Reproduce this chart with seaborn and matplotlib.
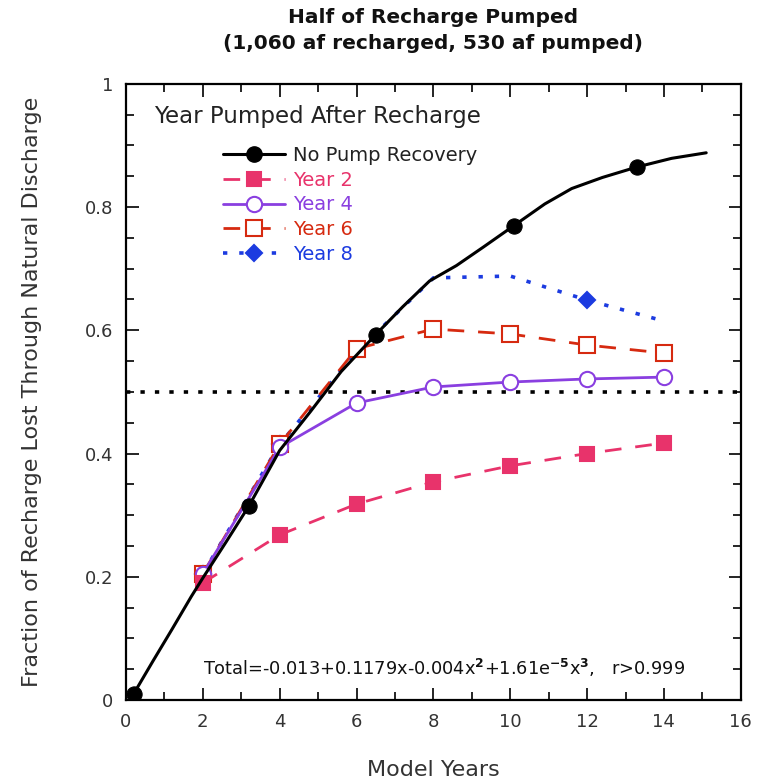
import numpy as np
import pandas as pd
import matplotlib
matplotlib.use("Agg")
import matplotlib.pyplot as plt
from matplotlib.lines import Line2D
from matplotlib.ticker import MultipleLocator
import seaborn as sns

# Total fraction lost through natural discharge (no pump recovery)
total_years = [0.2, 0.7, 1.2, 1.7, 2.0, 2.6, 3.2, 4.0, 4.8, 5.6, 6.5, 7.2, 7.9,
               8.6, 9.3, 10.1, 10.9, 11.6, 12.4, 13.3, 14.2, 15.1]
total_frac = [0.010, 0.063, 0.115, 0.168, 0.198, 0.256, 0.315, 0.405, 0.468, 0.533,
              0.593, 0.638, 0.680, 0.705, 0.735, 0.770, 0.805, 0.830, 0.848, 0.865,
              0.879, 0.888]
total_marker_idx = [0, 6, 10, 15, 19]

# Scenarios: year in which the recharge is pumped
pump_years = [2, 4, 6, 8, 10, 12, 14]
year2 = [0.190, 0.268, 0.318, 0.354, 0.380, 0.400, 0.417]
year4 = [0.205, 0.410, 0.482, 0.508, 0.516, 0.521, 0.524]
year6 = [0.205, 0.415, 0.570, 0.602, 0.594, 0.576, 0.563]
year8 = [0.205, 0.415, 0.565, 0.685, 0.688, 0.649, 0.615]

series_names = ["Year 2", "Year 4", "Year 6", "Year 8"]
series_values = [year2, year4, year6, year8]

x_ticks = [0, 2, 4, 6, 8, 10, 12, 14, 16]
y_ticks = [0, 0.2, 0.4, 0.6, 0.8, 1]
y_tick_labels = ["0", "0.2", "0.4", "0.6", "0.8", "1"]

title_text = "Half of Recharge Pumped\n(1,060 af recharged, 530 af pumped)"
fit_text = (r"Total=-0.013+0.1179x-0.004x$^{\mathbf{2}}$+1.61e$^{\mathbf{-5}}$"
            r"x$^{\mathbf{3}}$,   r>0.999")

sns.set_theme(style="white")
plt.rcParams["font.family"] = ["DejaVu Sans"]

fig = plt.figure(figsize=(7.59, 7.83), dpi=100)
ax = fig.add_axes([0.166, 0.106, 0.81, 0.787])

styles = {
    "Year 2": dict(color="#e8336b", ls=(0, (6, 5)), marker="s", mfc="#e8336b",
                   ms=10, mev=None, lw=2.0),
    "Year 4": dict(color="#8a3fe0", ls="-", marker="o", mfc="white",
                   ms=11, mev=None, lw=2.0),
    "Year 6": dict(color="#d62a10", ls=(0, (6, 5)), marker="s", mfc="white",
                   ms=11, mev=None, lw=2.0),
    "Year 8": dict(color="#1c3be0", ls=(0, (1.2, 3.3)), marker="D", mfc="#1c3be0",
                   ms=8, mev=[0, 1, 5], lw=2.6),
}

df_total = pd.DataFrame({"year": total_years, "frac": total_frac})

# Reference line at half of recharge
ax.axhline(0.5, color="black", ls=(0, (1.2, 2.8)), lw=2.6, zorder=1)

long_rows = []
for name, vals in zip(series_names, series_values):
    for yr, v in zip(pump_years, vals):
        long_rows.append({"year": yr, "frac": v, "scenario": name})
df_long = pd.DataFrame(long_rows)

for name in series_names[::-1]:
    st = styles[name]
    sub = df_long[df_long["scenario"] == name]
    sns.lineplot(data=sub, x="year", y="frac", ax=ax, color=st["color"],
                 linestyle=st["ls"], lw=st["lw"], marker=st["marker"],
                 markersize=st["ms"], markerfacecolor=st["mfc"],
                 markeredgecolor=st["color"], markeredgewidth=1.5,
                 markevery=st["mev"], legend=False, zorder=3)

sns.lineplot(data=df_total, x="year", y="frac", ax=ax, color="black", lw=2.2,
             marker="o", markersize=11, markerfacecolor="black",
             markeredgecolor="black", markevery=total_marker_idx,
             legend=False, zorder=4)

ax.set_xlim(0, 16)
ax.set_ylim(0, 1)
ax.set_xticks(x_ticks)
ax.set_yticks(y_ticks)
ax.set_yticklabels(y_tick_labels)
ax.xaxis.set_minor_locator(MultipleLocator(1))
ax.yaxis.set_minor_locator(MultipleLocator(0.05))
ax.tick_params(which="both", direction="in", top=True, right=True,
               bottom=True, left=True, color="black", width=1.2)
ax.tick_params(which="major", length=9, labelsize=13, labelcolor="#333333", pad=9)
ax.tick_params(which="minor", length=6)
for sp in ax.spines.values():
    sp.set_color("black")
    sp.set_linewidth(1.6)

ax.set_xlabel("Model Years", fontsize=16, color="#333333", labelpad=21)
ax.set_ylabel("Fraction of Recharge Lost Through Natural Discharge",
              fontsize=16, color="#333333", labelpad=31)
fig.text(0.571, 0.99, title_text, ha="center", va="top", fontsize=14.5,
         fontweight="bold", linespacing=1.45, color="#111111")

ax.text(0.125, 0.052, fit_text, transform=ax.transAxes, fontsize=12.8,
        color="#111111", ha="left", va="center")

# Legend
ax.text(0.046, 0.947, "Year Pumped After Recharge", transform=ax.transAxes,
        fontsize=16.5, color="#222222", ha="left", va="center")
handles = [Line2D([], [], color="black", lw=2.2, marker="o", ms=11,
                  mfc="black", mec="black")]
labels = ["No Pump Recovery"]
for name in series_names:
    st = styles[name]
    handles.append(Line2D([], [], color=st["color"], ls=st["ls"], lw=st["lw"],
                          marker=st["marker"], ms=st["ms"], mfc=st["mfc"],
                          mec=st["color"], mew=1.5))
    labels.append(name)
leg = ax.legend(handles, labels, loc="upper left", bbox_to_anchor=(0.145, 0.912),
                frameon=False, fontsize=14, handlelength=3.2, handletextpad=0.4,
                labelspacing=0.3, borderaxespad=0, labelcolor="linecolor")
leg.get_texts()[0].set_color("#222222")

fig.savefig("out.png", dpi=100, facecolor="white")
